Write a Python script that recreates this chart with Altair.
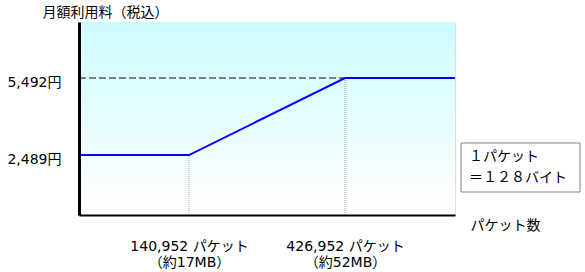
import altair as alt
import pandas as pd

# ---- data ----
fees = [2489, 5492]                       # 円
packets = [140952, 426952]                # パケット
packet_labels = ["140,952 パケット", "426,952 パケット"]
mb_labels = ["（約17MB）", "（約52MB）"]
note_lines = ["１パケット", "＝１２８バイト"]
x_domain = [-60700, 628600]
y_domain = [150, 7680]

FONT = "DejaVu Sans, Noto Sans CJK JP"
FS = 14

# ---- tables ----
line_df = pd.DataFrame({
    "packets": [x_domain[0], packets[0], packets[1], x_domain[1]],
    "fee": [fees[0], fees[0], fees[1], fees[1]],
})
bg_df = pd.DataFrame({"x": [x_domain[0]], "x2": [x_domain[1]],
                      "y": [y_domain[0]], "y2": [y_domain[1]]})
dash_df = pd.DataFrame({"x": [x_domain[0]], "x2": [packets[1]], "y": [fees[1]]})
drop_df = pd.DataFrame({"x": packets, "y": [y_domain[0]] * 2, "y2": fees})
note_df = pd.DataFrame({"text": ["\n".join(note_lines)]})

label_expr_x = " : ".join(
    f"datum.value == {p} ? ['{a}', '{b}']" for p, a, b in zip(packets, packet_labels, mb_labels)
) + " : ''"

x_scale = alt.Scale(domain=x_domain, nice=False, zero=False)
y_scale = alt.Scale(domain=y_domain, nice=False, zero=False)

x_axis = alt.Axis(
    values=packets, labelExpr=label_expr_x, ticks=False, grid=False,
    domainColor="black", domainWidth=2, labelPadding=31, labelFontSize=FS,
    labelFont=FONT, labelColor="black", labelLineHeight=16, labelBaseline="middle",
    title="パケット数", titleX=391, titleY=10, titleAlign="left", titleBaseline="middle",
    titleFont=FONT, titleFontSize=FS, titleFontWeight="normal", titleColor="black",
    zindex=1,
)
y_axis = alt.Axis(
    values=fees, labelExpr="format(datum.value, ',') + '円'", ticks=False, grid=False,
    domainColor="black", domainWidth=3, labelPadding=18, labelFontSize=FS,
    labelFont=FONT, labelColor="black", labelBaseline="middle", labelOffset=4,
    title="月額利用料（税込）", titleAngle=0, titleX=-37, titleY=-10, titleAlign="left",
    titleBaseline="middle", titleFont=FONT, titleFontSize=FS, titleFontWeight="normal",
    titleColor="black", zindex=1,
)


def X(field):
    return alt.X(field, type="quantitative", scale=x_scale, axis=x_axis)


def Y(field):
    return alt.Y(field, type="quantitative", scale=y_scale, axis=y_axis)


gradient = alt.Gradient(
    gradient="linear", x1=0, x2=0, y1=0, y2=1,
    stops=[alt.GradientStop(offset=0, color="#ccfcff"),
           alt.GradientStop(offset=0.95, color="#ffffff")],
)

bg = alt.Chart(bg_df).mark_rect(color=gradient).encode(
    x=X("x"), x2="x2", y=Y("y"), y2="y2")

dash = alt.Chart(dash_df).mark_rule(color="#808080", strokeWidth=2, strokeDash=[7, 3]).encode(
    x=X("x"), x2="x2", y=Y("y"))

drops = alt.Chart(drop_df).mark_rule(color="#a0a0a0", strokeWidth=1, strokeDash=[1, 1]).encode(
    x=X("x"), y=Y("y"), y2="y2")

line = alt.Chart(line_df).mark_line(color="#0000ff", strokeWidth=2).encode(
    x=X("packets"), y=Y("fee"))

box = alt.Chart(note_df).mark_rect(fill="white", stroke="#808080", strokeWidth=1).encode(
    x=alt.value(382), x2=alt.value(501), y=alt.value(121), y2=alt.value(170))

note = alt.Chart(note_df).mark_text(
    align="left", baseline="middle", lineBreak="\n", lineHeight=21,
    font=FONT, fontSize=FS, color="black",
).encode(x=alt.value(390), y=alt.value(135), text="text:N")

chart = alt.layer(bg, dash, drops, line, box, note).properties(
    width=376, height=193,
    autosize=alt.AutoSizeParams(type="none"),
    padding={"left": 79, "top": 22, "right": 130, "bottom": 57},
).configure_view(stroke=None).configure(background="white")

chart.save("out.html", embed_options={"renderer": "svg", "actions": False})
